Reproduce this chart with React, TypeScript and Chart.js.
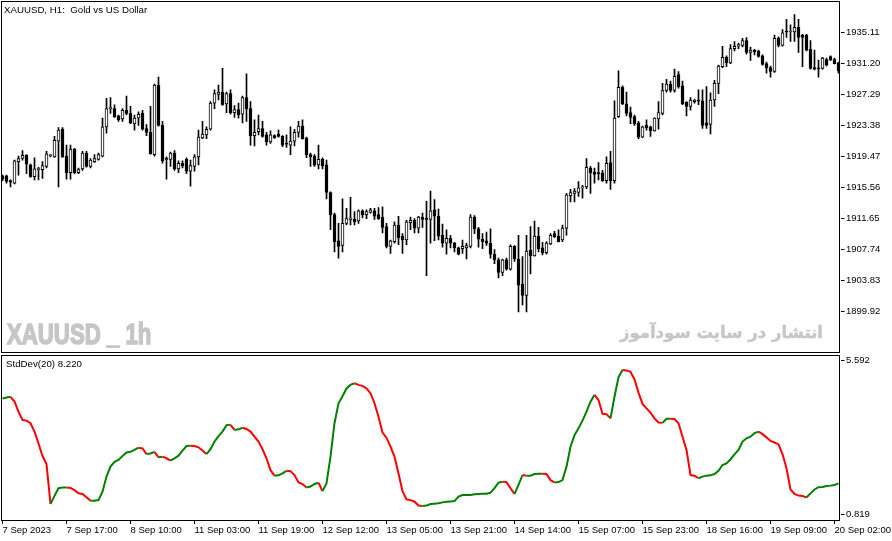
import { useEffect, useRef } from "react"
import { Chart, registerables } from "chart.js"

Chart.register(...registerables)

// ── Theme ───────────────────────────────────────────────────
const FONT      = "'Liberation Sans', Arial, sans-serif"
const INK       = "#000000"
const BULL      = "#ffffff"
const UP_LINE   = "#008000"
const DOWN_LINE = "#ff0000"
const WATERMARK = "#c6c6c6"

// ── XAUUSD H1 bars (7 Sep 01:00 → 20 Sep 03:00) ─────────────
const opens = [
  1917.0, 1917.0, 1916.4, 1916.1, 1918.8, 1919.2, 1919.6, 1918.4, 1916.9, 1917.8,
  1917.8, 1918.2, 1919.55, 1919.4, 1921.4, 1922.9, 1919.5, 1917.4, 1920.4, 1917.4,
  1917.9, 1919.9, 1918.2, 1918.8, 1919.1, 1919.5, 1923.2, 1925.5, 1925.5, 1924.6,
  1924.2, 1925.3, 1924.9, 1923.6, 1924.3, 1924.9, 1923.0, 1922.5, 1919.7, 1928.5,
  1923.4, 1919.15, 1919.1, 1919.9, 1917.9, 1918.6, 1919.1, 1917.6, 1918.2, 1919.4,
  1921.8, 1922.2, 1922.9, 1926.2, 1927.3, 1927.6, 1926.1, 1927.4, 1925.0, 1925.4,
  1924.8, 1926.9, 1925.5, 1922.1, 1922.6, 1923.0, 1922.2, 1921.3, 1922.1, 1922.3,
  1922.0, 1921.1, 1920.9, 1921.4, 1922.5, 1923.3, 1921.8, 1919.7, 1919.5, 1918.4,
  1919.1, 1918.4, 1914.9, 1912.1, 1908.8, 1908.2, 1911.0, 1911.5, 1911.5, 1911.3,
  1912.6, 1912.1, 1912.4, 1912.6, 1912.1, 1911.8, 1910.6, 1908.1, 1908.7, 1910.8,
  1909.4, 1908.9, 1911.1, 1911.4, 1910.4, 1911.8, 1911.55, 1911.5, 1912.7, 1911.9,
  1909.5, 1908.5, 1909.1, 1908.5, 1907.9, 1907.8, 1907.9, 1908.1, 1911.8, 1910.3,
  1909.0, 1908.8, 1908.5, 1907.1, 1906.4, 1904.8, 1906.4, 1905.2, 1908.1, 1906.5,
  1903.3, 1901.9, 1907.6, 1906.9, 1909.4, 1907.9, 1907.3, 1908.4, 1909.7, 1909.4,
  1908.9, 1910.4, 1914.5, 1914.8, 1914.9, 1915.5, 1915.6, 1918.0, 1917.5, 1917.35,
  1917.4, 1916.4, 1918.7, 1916.4, 1924.5, 1928.2, 1926.1, 1925.0, 1924.5, 1923.7,
  1921.9, 1923.4, 1923.2, 1922.7, 1924.2, 1924.9, 1927.8, 1928.6, 1927.8, 1929.8,
  1928.4, 1926.3, 1925.8, 1926.4, 1926.5, 1926.5, 1923.7, 1923.5, 1926.6, 1928.7,
  1930.8, 1932.0, 1931.3, 1933.1, 1933.4, 1933.5, 1934.1, 1932.6, 1932.9, 1932.8,
  1932.2, 1931.2, 1930.7, 1930.2, 1934.4, 1933.5, 1935.25, 1935.2, 1935.2, 1935.8,
  1934.8, 1934.8, 1933.0, 1930.7, 1930.6, 1930.6, 1931.7, 1932.1, 1931.7, 1931.3,
]
const highs = [
  1917.1, 1917.1, 1916.5, 1919.0, 1919.5, 1920.2, 1919.7, 1918.5, 1919.3, 1918.1,
  1918.8, 1920.1, 1919.7, 1922.0, 1923.1, 1923.1, 1920.9, 1920.9, 1920.5, 1918.0,
  1920.1, 1920.1, 1919.2, 1919.7, 1919.9, 1924.3, 1926.8, 1926.9, 1926.0, 1924.7,
  1925.5, 1927.1, 1925.8, 1924.7, 1925.1, 1925.3, 1923.5, 1925.8, 1928.6, 1929.5,
  1923.9, 1919.4, 1920.0, 1920.2, 1918.9, 1918.9, 1919.3, 1919.0, 1919.7, 1922.8,
  1923.9, 1923.2, 1926.4, 1927.9, 1928.5, 1930.6, 1927.6, 1927.9, 1925.9, 1926.2,
  1927.1, 1929.9, 1926.4, 1924.1, 1924.7, 1923.9, 1922.5, 1922.7, 1922.2, 1922.8,
  1922.1, 1922.2, 1923.2, 1922.9, 1923.9, 1924.1, 1921.9, 1919.9, 1919.7, 1920.9,
  1919.3, 1919.0, 1915.0, 1912.3, 1911.0, 1914.1, 1912.9, 1914.3, 1912.5, 1912.7,
  1912.7, 1912.7, 1912.9, 1912.9, 1913.0, 1913.1, 1911.0, 1908.9, 1911.2, 1911.9,
  1909.7, 1911.4, 1911.8, 1911.6, 1911.9, 1912.3, 1913.8, 1915.1, 1914.0, 1912.8,
  1910.9, 1910.2, 1909.5, 1908.6, 1908.0, 1908.9, 1908.5, 1912.1, 1912.0, 1910.5,
  1909.7, 1909.9, 1910.3, 1907.7, 1906.6, 1906.5, 1906.6, 1908.3, 1908.2, 1909.5,
  1906.8, 1909.5, 1910.6, 1911.3, 1910.5, 1908.6, 1908.7, 1909.7, 1910.0, 1910.2,
  1910.8, 1914.8, 1915.3, 1915.4, 1916.3, 1915.8, 1919.2, 1918.2, 1918.0, 1918.7,
  1917.7, 1919.4, 1920.1, 1926.5, 1930.3, 1928.4, 1927.6, 1925.7, 1924.7, 1923.9,
  1923.3, 1924.1, 1923.3, 1924.35, 1926.4, 1928.7, 1929.2, 1929.0, 1930.5, 1930.2,
  1929.0, 1926.4, 1926.9, 1926.7, 1927.9, 1927.9, 1928.3, 1927.5, 1929.1, 1931.0,
  1933.4, 1932.2, 1933.6, 1934.0, 1933.8, 1934.4, 1934.5, 1933.3, 1933.0, 1932.9,
  1932.3, 1931.4, 1930.9, 1934.8, 1934.6, 1935.5, 1936.8, 1936.1, 1937.4, 1936.8,
  1934.9, 1934.9, 1934.1, 1932.9, 1931.65, 1932.0, 1931.9, 1932.2, 1931.9, 1931.4,
]
const lows = [
  1916.4, 1916.1, 1915.6, 1916.0, 1917.1, 1919.0, 1917.3, 1916.8, 1916.5, 1916.5,
  1916.7, 1918.0, 1919.4, 1919.35, 1915.6, 1919.35, 1916.6, 1916.6, 1917.3, 1917.3,
  1917.7, 1918.1, 1918.0, 1918.7, 1919.0, 1919.4, 1922.4, 1924.9, 1924.4, 1923.9,
  1923.9, 1924.7, 1923.6, 1922.8, 1923.4, 1922.8, 1922.1, 1919.75, 1919.5, 1923.3,
  1918.6, 1916.6, 1918.2, 1917.7, 1917.4, 1918.0, 1917.3, 1915.7, 1917.6, 1918.4,
  1921.7, 1921.7, 1922.8, 1925.5, 1926.6, 1925.9, 1925.0, 1924.8, 1924.4, 1924.3,
  1923.7, 1923.9, 1920.9, 1920.8, 1922.2, 1921.9, 1920.9, 1921.1, 1921.75, 1921.9,
  1920.7, 1920.6, 1919.7, 1920.8, 1921.9, 1921.65, 1919.3, 1918.2, 1918.2, 1917.9,
  1917.9, 1914.1, 1910.2, 1907.4, 1906.6, 1907.4, 1910.8, 1910.8, 1910.8, 1911.0,
  1911.7, 1911.6, 1912.3, 1911.5, 1911.5, 1909.8, 1907.9, 1907.2, 1908.5, 1908.3,
  1907.2, 1908.3, 1910.2, 1909.8, 1909.8, 1910.5, 1904.4, 1908.5, 1908.8, 1908.9,
  1908.0, 1907.1, 1907.9, 1907.4, 1907.0, 1907.2, 1906.5, 1907.9, 1909.7, 1908.0,
  1907.8, 1908.2, 1906.6, 1905.9, 1904.1, 1904.4, 1905.1, 1905.1, 1906.2, 1899.8,
  1900.7, 1899.8, 1904.6, 1906.85, 1907.4, 1907.0, 1907.1, 1908.3, 1909.2, 1908.65,
  1908.7, 1909.5, 1913.7, 1913.7, 1914.4, 1914.2, 1915.4, 1914.8, 1916.1, 1916.5,
  1916.3, 1916.1, 1915.3, 1916.1, 1924.4, 1926.0, 1924.6, 1923.6, 1923.4, 1921.7,
  1921.85, 1922.8, 1922.0, 1922.65, 1922.9, 1924.7, 1927.6, 1927.6, 1927.6, 1928.1,
  1926.0, 1924.6, 1925.3, 1926.2, 1926.0, 1923.0, 1923.0, 1922.3, 1925.8, 1927.4,
  1930.7, 1930.8, 1931.2, 1932.8, 1933.1, 1933.3, 1932.4, 1931.6, 1932.3, 1932.0,
  1931.0, 1930.0, 1929.5, 1930.1, 1933.3, 1933.4, 1934.5, 1934.0, 1934.0, 1932.6,
  1930.8, 1932.8, 1930.5, 1930.4, 1929.5, 1930.5, 1930.9, 1931.6, 1931.15, 1930.0,
]
const closes = [
  1916.6, 1916.3, 1916.2, 1918.9, 1919.2, 1919.6, 1918.5, 1916.9, 1917.9, 1917.9,
  1918.3, 1919.8, 1919.6, 1921.5, 1922.8, 1919.4, 1917.4, 1920.4, 1917.4, 1917.8,
  1919.9, 1918.2, 1919.0, 1919.2, 1919.7, 1923.2, 1925.5, 1925.6, 1924.5, 1924.1,
  1925.3, 1924.9, 1923.7, 1924.3, 1924.8, 1922.9, 1922.5, 1919.8, 1928.5, 1923.4,
  1918.9, 1919.1, 1919.9, 1917.9, 1918.6, 1918.3, 1917.6, 1918.3, 1919.4, 1921.9,
  1922.3, 1922.9, 1926.2, 1927.4, 1927.6, 1926.0, 1927.4, 1925.0, 1925.4, 1924.7,
  1926.9, 1925.5, 1922.1, 1922.5, 1923.0, 1922.0, 1921.3, 1922.2, 1921.8, 1922.0,
  1920.9, 1921.0, 1921.4, 1922.5, 1923.3, 1921.7, 1919.7, 1919.4, 1918.4, 1919.1,
  1918.3, 1914.9, 1912.1, 1908.7, 1908.1, 1911.0, 1911.6, 1911.7, 1911.2, 1912.6,
  1912.1, 1912.5, 1912.7, 1911.9, 1911.6, 1910.5, 1908.1, 1908.8, 1910.8, 1909.2,
  1908.9, 1911.2, 1911.4, 1910.4, 1911.8, 1911.5, 1911.5, 1912.6, 1911.9, 1909.4,
  1908.5, 1909.1, 1908.5, 1907.9, 1907.1, 1908.1, 1908.2, 1911.8, 1910.3, 1909.0,
  1908.7, 1908.5, 1907.1, 1906.4, 1904.8, 1906.4, 1905.2, 1908.1, 1906.5, 1903.2,
  1901.9, 1907.5, 1906.9, 1909.4, 1907.8, 1907.3, 1908.5, 1909.5, 1909.3, 1908.7,
  1910.4, 1914.6, 1914.9, 1915.1, 1915.5, 1915.6, 1918.1, 1917.4, 1917.2, 1917.3,
  1916.4, 1918.6, 1916.4, 1924.3, 1928.2, 1926.1, 1924.9, 1924.4, 1923.6, 1921.9,
  1923.2, 1923.1, 1922.7, 1924.3, 1925.0, 1927.8, 1928.6, 1927.8, 1929.6, 1928.3,
  1926.1, 1925.8, 1926.6, 1926.6, 1926.45, 1923.4, 1923.4, 1926.6, 1928.7, 1930.9,
  1932.0, 1931.3, 1933.1, 1933.4, 1933.6, 1934.1, 1932.6, 1932.9, 1932.7, 1932.1,
  1931.1, 1930.7, 1930.2, 1934.4, 1933.5, 1935.1, 1935.2, 1935.25, 1935.8, 1934.5,
  1934.5, 1932.9, 1930.6, 1930.5, 1930.55, 1931.9, 1931.0, 1931.65, 1931.2, 1930.3,
]

// ── StdDev(20) per bar ──────────────────────────────────────
const stdDev = [
  4.42, 4.45, 4.47, 4.32, 4.01, 3.75, 3.73, 3.65, 3.39, 3.02,
  2.63, 2.38, 1.14, 1.39, 1.63, 1.65, 1.65, 1.64, 1.57, 1.47,
  1.45, 1.35, 1.24, 1.24, 1.26, 1.52, 1.99, 2.30, 2.45, 2.51,
  2.63, 2.74, 2.76, 2.82, 2.89, 2.87, 2.69, 2.71, 2.76, 2.59,
  2.61, 2.56, 2.49, 2.56, 2.64, 2.80, 2.94, 2.95, 2.94, 2.90,
  2.80, 2.69, 2.84, 3.08, 3.25, 3.39, 3.59, 3.60, 3.44, 3.46,
  3.51, 3.47, 3.39, 3.23, 3.08, 2.84, 2.56, 2.19, 2.02, 2.03,
  2.09, 2.17, 2.16, 2.04, 1.81, 1.76, 1.65, 1.68, 1.76, 1.80,
  1.54, 1.78, 2.61, 3.65, 4.27, 4.49, 4.73, 4.84, 4.89, 4.84,
  4.81, 4.73, 4.58, 4.27, 3.85, 3.36, 3.20, 2.92, 2.61, 2.09,
  1.54, 1.28, 1.26, 1.21, 1.09, 1.08, 1.09, 1.14, 1.15, 1.16,
  1.19, 1.21, 1.22, 1.23, 1.37, 1.42, 1.42, 1.42, 1.44, 1.45,
  1.46, 1.46, 1.49, 1.63, 1.80, 1.83, 1.82, 1.63, 1.45, 1.73,
  2.04, 2.02, 2.02, 2.07, 2.08, 2.08, 2.07, 1.88, 1.81, 1.82,
  1.88, 2.30, 2.92, 3.28, 3.49, 3.73, 4.01, 4.32, 4.53, 4.37,
  3.94, 3.93, 3.80, 4.47, 5.08, 5.30, 5.29, 5.25, 5.01, 4.60,
  4.25, 4.11, 3.98, 3.80, 3.67, 3.66, 3.79, 3.79, 3.78, 3.65,
  3.23, 2.82, 2.04, 2.02, 1.94, 1.99, 2.02, 2.03, 2.07, 2.17,
  2.35, 2.40, 2.53, 2.68, 2.82, 3.08, 3.18, 3.23, 3.34, 3.39,
  3.31, 3.21, 3.10, 3.05, 2.99, 2.69, 2.25, 1.59, 1.45, 1.40,
  1.39, 1.34, 1.47, 1.59, 1.66, 1.67, 1.70, 1.71, 1.73, 1.78,
]

// ── Axes ────────────────────────────────────────────────────
const priceTicks = [1899.92, 1903.83, 1907.74, 1911.65, 1915.56, 1919.47, 1923.38, 1927.29, 1931.20, 1935.11]
const stdDevTicks = [0.819, 5.592]
const timeLabels = [
  "7 Sep 2023", "7 Sep 17:00", "8 Sep 10:00", "11 Sep 03:00", "11 Sep 19:00",
  "12 Sep 12:00", "13 Sep 05:00", "13 Sep 21:00", "14 Sep 14:00", "15 Sep 07:00",
  "15 Sep 23:00", "18 Sep 16:00", "19 Sep 09:00", "20 Sep 02:00",
]
const LABEL_STEP = 16
const PRICE_MIN = 1894.74
const PRICE_MAX = 1938.99
const SD_MIN = 0.642
const SD_MAX = 5.769

const barIndex = opens.map((_, i) => i)

// panel frame, MT5 style
const framePlugin = (h: number) => ({
  id: "frame",
  afterDraw(chart: any) {
    const { ctx } = chart
    ctx.save()
    ctx.strokeStyle = INK
    ctx.lineWidth = 1
    ctx.strokeRect(1.5, 1.5, 838, h)
    ctx.restore()
  },
})

const rightAxis = (min: number, max: number, ticks: number[], digits: number) => ({
  position: "right" as const,
  min,
  max,
  bounds: "data" as const,
  afterBuildTicks: (s: any) => { s.ticks = ticks.map(v => ({ value: v })) },
  afterFit: (s: any) => { s.width = 51.5; s.paddingTop = 0; s.paddingBottom = 0 },
  border: { display: false },
  grid: { drawOnChartArea: false, drawTicks: true, tickLength: 4, color: INK },
  ticks: {
    color: INK,
    autoSkip: false,
    padding: 1.5,
    font: { family: FONT, size: 9.5 },
    callback: (v: any) => Number(v).toFixed(digits),
  },
})

// ── 1. Candles ──────────────────────────────────────────────
function PriceChart() {
  const ref = useRef<HTMLCanvasElement>(null)
  useEffect(() => {
    if (!ref.current) return
    const chart = new Chart(ref.current, {
      type: "bar",
      data: {
        labels: barIndex,
        datasets: [
          {
            label: "Body",
            data: opens.map((o, i) => [o, closes[i]]),
            backgroundColor: opens.map((o, i) => (closes[i] > o ? BULL : INK)),
            borderColor: INK,
            borderWidth: 1,
            borderSkipped: false,
            barThickness: 3,
            minBarLength: 1,
            grouped: false,
            order: 0,
          },
          {
            label: "Wick",
            data: lows.map((l, i) => [l, highs[i]]),
            backgroundColor: INK,
            borderWidth: 0,
            barThickness: 1,
            grouped: false,
            order: 1,
          },
        ] as any,
      },
      options: {
        responsive: false,
        animation: false,
        events: [],
        layout: { padding: { top: 2, bottom: 2, left: 0.5, right: 0 } },
        plugins: { legend: { display: false }, tooltip: { enabled: false } },
        scales: {
          x: { display: false },
          y: rightAxis(PRICE_MIN, PRICE_MAX, priceTicks, 2),
        } as any,
      },
      plugins: [framePlugin(351)],
    })
    return () => chart.destroy()
  }, [])
  return <canvas ref={ref} width={892} height={354} style={{ position: "absolute", left: 0, top: 0 }} />
}

// ── 2. StdDev sub-window ────────────────────────────────────
function StdDevChart() {
  const ref = useRef<HTMLCanvasElement>(null)
  useEffect(() => {
    if (!ref.current) return
    const chart = new Chart(ref.current, {
      type: "line",
      data: {
        labels: barIndex,
        datasets: [{
          label: "StdDev(20)",
          data: stdDev,
          borderWidth: 2,
          borderColor: UP_LINE,
          pointRadius: 0,
          tension: 0,
          segment: {
            borderColor: (c: any) => (c.p1.parsed.y < c.p0.parsed.y ? DOWN_LINE : UP_LINE),
          },
        }],
      },
      options: {
        responsive: false,
        animation: false,
        events: [],
        layout: { padding: { top: 1, bottom: 0, left: 0.5, right: 0 } },
        plugins: { legend: { display: false }, tooltip: { enabled: false } },
        scales: {
          x: {
            offset: true,
            afterBuildTicks: (s: any) => { s.ticks = s.ticks.filter((t: any) => t.value % LABEL_STEP === 0) },
            afterFit: (s: any) => { s.height = 21; s.paddingLeft = 0; s.paddingRight = 0 },
            border: { display: false },
            grid: { offset: false, drawOnChartArea: false, tickLength: 4, color: INK },
            ticks: {
              color: INK,
              align: "start",
              autoSkip: false,
              maxRotation: 0,
              padding: 1,
              font: { family: FONT, size: 9.5 },
              callback: (v: any) => timeLabels[Number(v) / LABEL_STEP] ?? "",
            },
          },
          y: rightAxis(SD_MIN, SD_MAX, stdDevTicks, 3),
        } as any,
      },
      plugins: [framePlugin(165)],
    })
    return () => chart.destroy()
  }, [])
  return <canvas ref={ref} width={892} height={187} style={{ position: "absolute", left: 0, top: 354 }} />
}

const label = (extra: React.CSSProperties): React.CSSProperties => ({
  position: "absolute",
  whiteSpace: "pre",
  fontFamily: FONT,
  fontSize: 9.7,
  lineHeight: "10px",
  color: INK,
  pointerEvents: "none",
  ...extra,
})

export default function App() {
  return (
    <div style={{ position: "fixed", left: 0, top: 0, width: 892, height: 541, background: "#fff", overflow: "hidden" }}>
      <PriceChart />
      <StdDevChart />
      <div style={label({ left: 4, top: 4.5 })}>XAUUSD, H1:  Gold vs US Dollar</div>
      <div style={label({ left: 6, top: 358.5 })}>StdDev(20) 8.220</div>
      <div style={label({
        left: 7, top: 319, fontSize: 30, lineHeight: "30px", fontWeight: 700,
        color: WATERMARK, WebkitTextStroke: `1.6px ${WATERMARK}`,
        transform: "scaleX(0.74)", transformOrigin: "left top",
      })}>XAUUSD _ 1h</div>
      <div dir="rtl" style={label({
        right: 69, top: 324, fontFamily: "'DejaVu Sans', sans-serif", fontSize: 16.5,
        lineHeight: "18px", fontWeight: 700, color: WATERMARK,
        WebkitTextStroke: `0.4px ${WATERMARK}`, textAlign: "right",
      })}>انتشار در سایت سودآموز</div>
    </div>
  )
}
